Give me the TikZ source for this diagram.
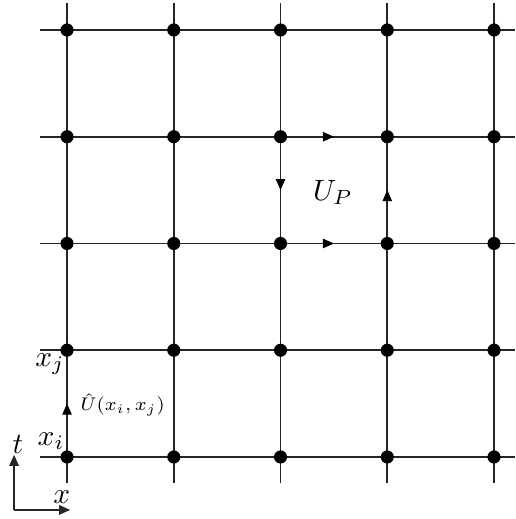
\documentclass[tikz,border=0pt]{standalone}
\usetikzlibrary{arrows.meta,decorations.markings}
\tikzset{
  site/.style={circle,fill=black,inner sep=0pt,minimum size=5pt},
  link/.style={line width=0.6pt,black!85},
  lbl/.style={inner sep=0pt,scale=1.12},
  midarrow/.style={postaction={decorate},decoration={markings,
    mark=at position 0.5 with {\arrow{Triangle[length=4.2pt,width=3.6pt]}}}}
}
\begin{document}
\begin{tikzpicture}[x=1.43cm,y=1.43cm]
\useasboundingbox (-0.628,-0.581) rectangle (4.197,4.281);
% lattice
\foreach \i in {0,...,4} {
  \coordinate (l-\i) at (-0.253,\i);
  \coordinate (r-\i) at (4.197,\i);
  \coordinate (b-\i) at (\i,-0.244);
  \coordinate (t-\i) at (\i,4.253);
  \draw[link] (l-\i) -- (r-\i);
  \draw[link] (b-\i) -- (t-\i);
}
\foreach \i in {0,...,4}
  \foreach \j in {0,...,4}
    \node[site] (p-\i-\j) at (\i,\j) {};
% plaquette
\path[midarrow] (p-2-3) -- (p-3-3);
\path[midarrow] (p-2-2) -- (p-3-2);
\path[midarrow] (p-2-3) -- (p-2-2);
\path[midarrow] (p-3-2) -- (p-3-3);
\node[lbl] (up) at (2.49,2.48) {$U_P$};
% link variable
\path[midarrow] (p-0-0) -- (p-0-1);
\node[lbl] (xi) at (-0.15,0.15) {$x_i$};
\node[lbl] (xj) at (-0.16,0.87) {$x_j$};
\node[inner sep=0pt,font=\scriptsize] (uhat) at (0.52,0.49) {$\hat{U}(x_i,x_j)$};
% axes
\coordinate (o) at (-0.496,-0.496);
\coordinate (ot) at (-0.496,0.02);
\coordinate (ox) at (0.03,-0.496);
\draw[link,-{Triangle[length=4.2pt,width=3.6pt]}] (o) -- (ot);
\draw[link,-{Triangle[length=4.2pt,width=3.6pt]}] (o) -- (ox);
\node[lbl] (tl) at (-0.46,0.12) {$t$};
\node[lbl] (xl) at (-0.05,-0.38) {$x$};
\end{tikzpicture}
\end{document}
